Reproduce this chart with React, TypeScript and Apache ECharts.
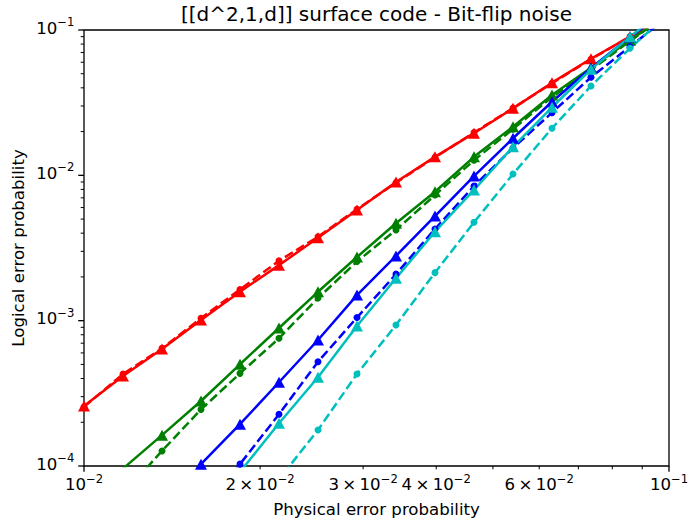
import React, { useEffect, useRef } from 'react';
import * as echarts from 'echarts';

// Physical error probabilities (x)
const physicalP = [
  0.01, 0.011659, 0.013594, 0.015849, 0.018478, 0.021544, 0.025119, 0.029286,
  0.034145, 0.039811, 0.046416, 0.054117, 0.063096, 0.073564, 0.08577, 0.1,
];

// Logical error probabilities (y), null = not plotted
const redSolid = [2.59e-4, 4.16e-4, 6.38e-4, 1.01e-3, 1.58e-3, 2.41e-3, 3.72e-3, 5.77e-3, 8.99e-3, 1.34e-2, 1.95e-2, 2.89e-2, 4.34e-2, 6.34e-2, 9.0e-2, 0.125];
const redDashed = [2.55e-4, 4.3e-4, 6.45e-4, 1.04e-3, 1.64e-3, 2.58e-3, 3.78e-3, 5.85e-3, 8.9e-3, 1.33e-2, 1.97e-2, 2.9e-2, 4.3e-2, 6.3e-2, 9.0e-2, 0.125];
const greenSolid = [5.4e-5, 9.6e-5, 1.63e-4, 2.8e-4, 5.01e-4, 8.9e-4, 1.58e-3, 2.74e-3, 4.68e-3, 7.71e-3, 1.34e-2, 2.16e-2, 3.57e-2, 5.5e-2, 8.5e-2, 0.13];
const greenDashed = [3.3e-5, 6.4e-5, 1.27e-4, 2.45e-4, 4.34e-4, 7.56e-4, 1.43e-3, 2.55e-3, 4.21e-3, 7.32e-3, 1.27e-2, 2.08e-2, 3.46e-2, 5.3e-2, 8.4e-2, 0.13];
const blueSolid = [null, null, 5.3e-5, 1.03e-4, 1.94e-4, 3.77e-4, 7.36e-4, 1.5e-3, 2.79e-3, 5.25e-3, 9.89e-3, 1.8e-2, 3.21e-2, 5.48e-2, 8.95e-2, 0.14];
const blueDashed = [null, null, null, 4.6e-5, 1.03e-4, 2.27e-4, 5.22e-4, 1.05e-3, 2.09e-3, 4.27e-3, 8.45e-3, 1.54e-2, 2.7e-2, 4.73e-2, 7.68e-2, 0.125];
const cyanSolid = [null, null, null, 3.9e-5, 9.1e-5, 1.97e-4, 4.08e-4, 9.19e-4, 1.96e-3, 4.09e-3, 7.93e-3, 1.57e-2, 2.94e-2, 5.37e-2, 9.0e-2, 0.145];
const cyanDashed = [null, null, null, null, 3.1e-5, 8.1e-5, 1.77e-4, 4.3e-4, 9.33e-4, 2.14e-3, 4.75e-3, 1.02e-2, 2.11e-2, 4.12e-2, 7.48e-2, 0.13];

// Axis ticks: [mantissa prefix, exponent]
const xMajorTicks = [0.01, 0.1];
const xMajorLabels = [['', '−2'], ['', '−1']];
const xMinorTicks = [0.02, 0.03, 0.04, 0.05, 0.06, 0.07, 0.08, 0.09];
const xMinorLabels = [['2\u2009×\u2009', '−2'], ['3\u2009×\u2009', '−2'], ['4\u2009×\u2009', '−2'], null, ['6\u2009×\u2009', '−2'], null, null, null];
const yMajorTicks = [1e-4, 1e-3, 1e-2, 1e-1];
const yMajorLabels = [['', '−4'], ['', '−3'], ['', '−2'], ['', '−1']];
const yMinorMantissas = [2, 3, 4, 5, 6, 7, 8, 9];
const yMinorDecades = [1e-4, 1e-3, 1e-2];

const titleText = '[[d^2,1,d]] surface code - Bit-flip noise';
const xLabel = 'Physical error probability';
const yLabel = 'Logical error probability';

const FONT = '"DejaVu Sans", "Liberation Sans", sans-serif';

export default function App() {
  const ref = useRef<HTMLDivElement>(null);
  useEffect(() => {
    const chart = echarts.init(ref.current!, null, { renderer: 'svg', width: 688, height: 525 });

    const mk = (name: string, vals: (number | null)[], color: string, dashed: boolean) => ({
      name,
      type: 'line',
      data: physicalP
        .map((x, i) => [x, vals[i]])
        .filter((d) => d[1] !== null && d[1] !== undefined),
      symbol: dashed ? 'circle' : 'triangle',
      symbolSize: dashed ? 7 : [12, 11],
      showSymbol: true,
      clip: true,
      lineStyle: { color, width: 2.5, type: dashed ? [9.2, 4] : 'solid' },
      itemStyle: { color, borderWidth: 0 },
      emphasis: { disabled: true },
      silent: true,
    });

    const hiddenAxis = {
      axisLine: { show: false },
      axisTick: { show: false },
      axisLabel: { show: false },
      splitLine: { show: false },
      minorTick: { show: false },
    };

    chart.setOption({
      animation: false,
      grid: {
        left: 84,
        right: 19,
        top: 30,
        bottom: 59,
        show: true,
        borderColor: '#000',
        borderWidth: 1.3,
        backgroundColor: 'transparent',
        containLabel: false,
      },
      xAxis: { type: 'log', logBase: 10, min: 0.01, max: 0.1, ...hiddenAxis },
      yAxis: { type: 'log', logBase: 10, min: 1e-4, max: 0.1, ...hiddenAxis },
      series: [
        mk('red', redSolid, '#ff0000', false),
        mk('red dashed', redDashed, '#ff0000', true),
        mk('green', greenSolid, '#008000', false),
        mk('green dashed', greenDashed, '#008000', true),
        mk('blue', blueSolid, '#0000ff', false),
        mk('blue dashed', blueDashed, '#0000ff', true),
        mk('cyan', cyanSolid, '#00bfbf', false),
        mk('cyan dashed', cyanDashed, '#00bfbf', true),
      ],
    });

    const toPx = (x: number, y: number) => chart.convertToPixel({ gridIndex: 0 }, [x, y]) as number[];
    const [left, bottom] = toPx(0.01, 1e-4);
    const [right, top] = toPx(0.1, 0.1);
    const g: any[] = [];
    const FS = 16.6;
    const tick = (x1: number, y1: number, x2: number, y2: number, w: number) =>
      g.push({ type: 'line', silent: true, z: 100, shape: { x1, y1, x2, y2 }, style: { stroke: '#000', lineWidth: w } });
    const text = (t: string, x: number, y: number, size: number, align: string, valign: string, rotation = 0) =>
      g.push({
        type: 'text', silent: true, z: 100, x, y, rotation,
        style: {
          text: t, fill: '#000', font: `${size}px ${FONT}`,
          align, verticalAlign: valign, textAlign: align, textVerticalAlign: valign,
        },
      });
    const powLabel = (lab: string[], x: number, y: number, align: string, valign: string) =>
      g.push({
        type: 'text', silent: true, z: 100, x, y,
        style: {
          text: `{b|${lab[0]}10}{s|${lab[1]}}`,
          fill: '#000',
          align, verticalAlign: valign, textAlign: align, textVerticalAlign: valign,
          rich: {
            b: { fontSize: FS, fontFamily: FONT, fill: '#000', color: '#000' },
            s: { fontSize: 11.6, fontFamily: FONT, fill: '#000', color: '#000', padding: [0, 0, 12, 0] },
          },
        },
      });

    const MAJ = 5.8, MIN = 3.3, PAD = 5.8;
    xMajorTicks.forEach((v, i) => {
      const [px] = toPx(v, 1e-4);
      tick(px, bottom, px, bottom + MAJ, 1.3);
      powLabel(xMajorLabels[i], px, bottom + MAJ + PAD - 5, 'center', 'top');
    });
    xMinorTicks.forEach((v, i) => {
      const [px] = toPx(v, 1e-4);
      tick(px, bottom, px, bottom + MIN, 1);
      const lab = xMinorLabels[i];
      if (lab) powLabel(lab, px, bottom + MAJ + PAD - 5, 'center', 'top');
    });
    yMajorTicks.forEach((v, i) => {
      const [, py] = toPx(0.01, v);
      tick(left - MAJ, py, left, py, 1.3);
      powLabel(yMajorLabels[i], left - MAJ - PAD + 2, py - 2, 'right', 'middle');
    });
    yMinorDecades.forEach((d) => {
      yMinorMantissas.forEach((m) => {
        const [, py] = toPx(0.01, m * d);
        tick(left - MIN, py, left, py, 1);
      });
    });

    text(titleText, (left + right) / 2, top - 6, 20, 'center', 'bottom');
    text(xLabel, (left + right) / 2, bottom + 35, FS, 'center', 'top');
    text(yLabel, 18, (top + bottom) / 2, FS, 'center', 'middle', Math.PI / 2);

    chart.setOption({ graphic: g });

    return () => chart.dispose();
  }, []);

  return <div ref={ref} style={{ position: 'absolute', left: 0, top: 0, width: 688, height: 525 }} />;
}
